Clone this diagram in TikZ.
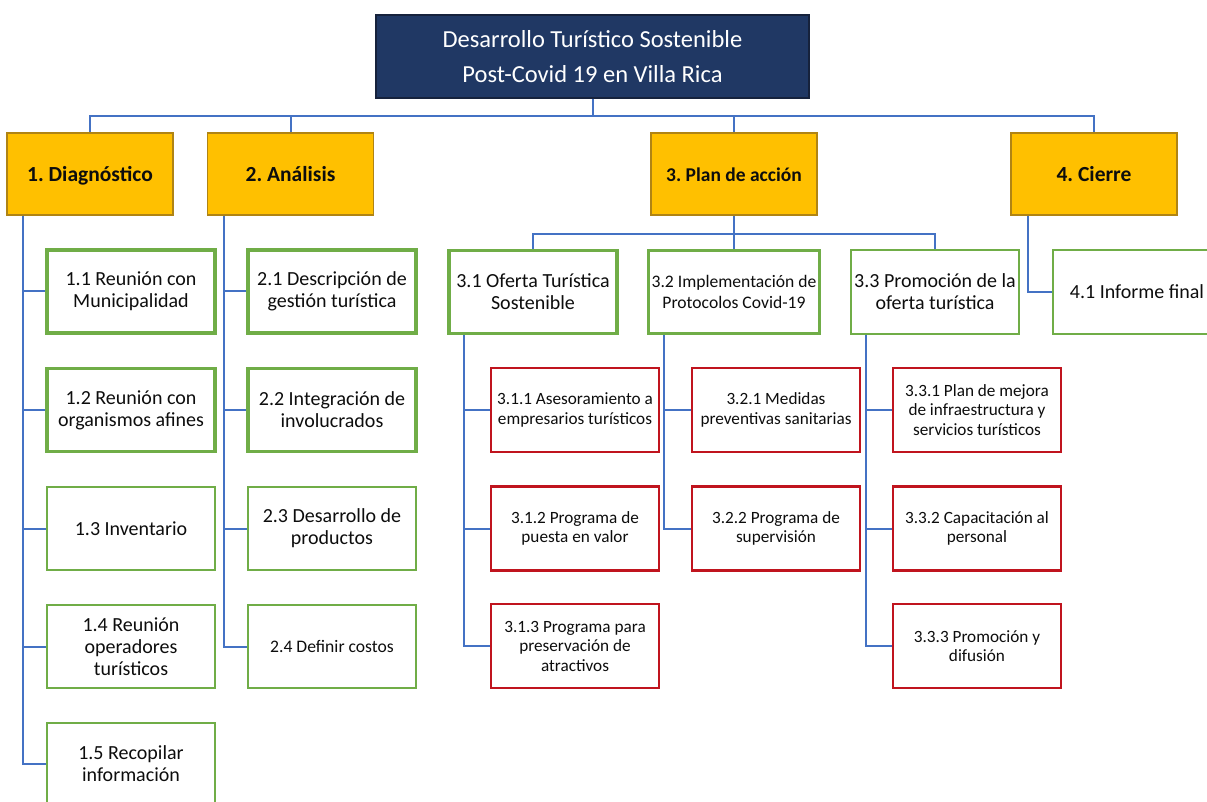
\documentclass[tikz,border=0pt]{standalone}
\usepackage{fontspec}
\setmainfont{Carlito}
\definecolor{linkblue}{RGB}{68,114,196}
\definecolor{rootedge}{RGB}{22,34,60}
\definecolor{rootfill}{RGB}{32,56,100}
\definecolor{phaseedge}{RGB}{176,132,20}
\definecolor{phasefill}{RGB}{255,192,0}
\definecolor{taskedge}{RGB}{112,173,71}
\definecolor{subedge}{RGB}{192,20,30}
\definecolor{ink}{RGB}{13,13,13}
\begin{document}
\frenchspacing
\begin{tikzpicture}[x=1pt,y=-1pt,
  conn/.style={draw=linkblue,line width=2pt},
  titlebox/.style={draw=rootedge,line width=1.2pt,fill=rootfill,
    text=white,minimum width=433,minimum height=83,align=center,
    font=\fontsize{24.5}{35}\selectfont},
  phasebox/.style={draw=phaseedge,line width=1.2pt,fill=phasefill,
    minimum width=166,minimum height=82,align=center,
    text height=17pt,text depth=2pt,
    font=\fontsize{21.5}{24}\selectfont\bfseries,text=ink},
  taskbox/.style={draw=taskedge,line width=2pt,fill=white,
    minimum width=168,minimum height=83,align=center,
    font=\fontsize{20}{22}\selectfont,text=ink},
  thick green/.style={line width=3.6pt},
  mid green/.style={line width=3pt},
  subbox/.style={draw=subedge,line width=2.2pt,fill=white,
    minimum width=168,minimum height=84,align=center,
    font=\fontsize{17.2}{19.5}\selectfont,text=ink},
]
\useasboundingbox (0,0) rectangle (1207,802);
\begin{scope}
\clip (0,0) rectangle (1207,802);

% root
\node[titlebox] (root) at (592.5,56.5) {Desarrollo Turístico Sostenible\\Post-Covid 19 en Villa Rica};

% phases
\node[phasebox] (d1) at (90,174) {1. Diagnóstico};
\node[phasebox] (d2) at (290.5,174) {2. Análisis};
\node[phasebox,font=\fontsize{19.5}{22}\selectfont\bfseries] (d3) at (734,174) {3. Plan de acción};
\node[phasebox] (d4) at (1094,174) {4. Cierre};

% phase 1 tasks
\node[taskbox,thick green] (t11) at (131,291.5) {1.1 Reunión con\\Municipalidad};
\node[taskbox,thick green] (t12) at (131,410) {1.2 Reunión con\\organismos afines};
\node[taskbox] (t13) at (131,528.5) {1.3 Inventario};
\node[taskbox] (t14) at (131,646.5) {1.4 Reunión\\operadores\\turísticos};
\node[taskbox] (t15) at (131,764) {1.5 Recopilar\\información};

% phase 2 tasks
\node[taskbox,thick green] (t21) at (332,291.5) {2.1 Descripción de\\gestión turística};
\node[taskbox,thick green] (t22) at (332,410) {2.2 Integración de\\involucrados};
\node[taskbox] (t23) at (332,528.5) {2.3 Desarrollo de\\productos};
\node[taskbox,font=\fontsize{17.6}{20}\selectfont] (t24) at (332,646.5) {2.4 Definir costos};

% phase 3 tasks
\node[taskbox,thick green] (t31) at (533,292) {3.1 Oferta Turística\\Sostenible};
\node[taskbox,mid green,font=\fontsize{17.6}{21}\selectfont] (t32) at (734,292) {3.2 Implementación de\\Protocolos Covid-19};
\node[taskbox] (t33) at (935,292) {3.3 Promoción de la\\oferta turística};

% phase 4 task
\node[taskbox] (t41) at (1137,292) {4.1 Informe final};

% phase 3 sub-tasks
\node[subbox] (s311) at (575,410) {3.1.1 Asesoramiento a\\empresarios turísticos};
\node[subbox] (s312) at (575,528.5) {3.1.2 Programa de\\puesta en valor};
\node[subbox] (s313) at (575,646) {3.1.3 Programa para\\preservación de\\atractivos};
\node[subbox] (s321) at (776,410) {3.2.1 Medidas\\preventivas sanitarias};
\node[subbox] (s322) at (776,528.5) {3.2.2 Programa de\\supervisión};
\node[subbox] (s331) at (977,410) {3.3.1 Plan de mejora\\de infraestructura y\\servicios turísticos};
\node[subbox] (s332) at (977,528.5) {3.3.2 Capacitación al\\personal};
\node[subbox] (s333) at (977,646) {3.3.3 Promoción y\\difusión};

% root to phases
\draw[conn] (root.south) -- ++(0,17) coordinate (hub);
\draw[conn] (d1.north) |- (hub) -| (d4.north);
\draw[conn] (d2.north) -- (d2.north |- hub);
\draw[conn] (d3.north) -- (d3.north |- hub);

% phase spines
\coordinate (sp1) at ([xshift=17]d1.south west);
\coordinate (sp2) at ([xshift=17]d2.south west);
\coordinate (sp4) at ([xshift=18]d4.south west);
\foreach \c in {t11,t12,t13,t14,t15} \draw[conn] (sp1) |- (\c.west);
\foreach \c in {t21,t22,t23,t24} \draw[conn] (sp2) |- (\c.west);
\draw[conn] (sp4) |- (t41.west);

% phase 3 branch
\draw[conn] (d3.south) -- ++(0,18) coordinate (hub3);
\draw[conn] (t31.north) |- (hub3) -| (t33.north);
\draw[conn] (t32.north) -- (t32.north |- hub3);

\coordinate (sp31) at ([xshift=17]t31.south west);
\coordinate (sp32) at ([xshift=17]t32.south west);
\coordinate (sp33) at ([xshift=16]t33.south west);
\foreach \c in {s311,s312,s313} \draw[conn] (sp31) |- (\c.west);
\foreach \c in {s321,s322} \draw[conn] (sp32) |- (\c.west);
\foreach \c in {s331,s332,s333} \draw[conn] (sp33) |- (\c.west);
\end{scope}
\end{tikzpicture}
\end{document}
